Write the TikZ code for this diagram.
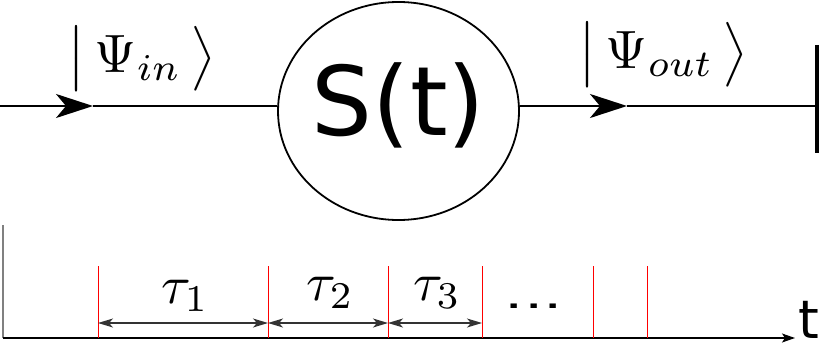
\documentclass[tikz,border=0pt]{standalone}
\usepackage{graphicx}
\usepackage{fontspec}
\newfontfamily\dejavu{DejaVu Sans}
\usetikzlibrary{arrows.meta,shapes.geometric}
\newcommand{\bigmath}[1]{\scalebox{5.4}{$#1$}}
\begin{document}
\begin{tikzpicture}[x=1pt,y=-1pt,
  wire/.style={line width=2.6pt},
  bigtip/.style={-{Stealth[length=37pt,width=24pt,inset=10pt]}},
  mathlab/.style={inner sep=0pt},
  redline/.style={red,line width=1pt},
  dimarrow/.style={black!80,line width=1.2pt,{Stealth[length=15pt,width=9pt,inset=4pt]}-{Stealth[length=15pt,width=9pt,inset=4pt]}},
  axisline/.style={line width=1.5pt,-{Stealth[length=13pt,width=9pt,inset=3pt]}}]
\useasboundingbox (0,0) rectangle (821,345);
% circle
\node[ellipse,draw,line width=1.8pt,minimum width=241pt,minimum height=218pt,inner sep=0pt] (S) at (398.5,111) {};
\node[inner sep=0pt,anchor=base,font=\dejavu\fontsize{96}{100}\selectfont] (Slab) at (398.5,135) {S(t)};
% input wire
\coordinate (inL) at (0,106);
\coordinate (inA) at (93,106);
\draw[wire,bigtip] (inL) -- (inA);
\draw[wire] (inA) -- (S.west |- inL);
% output wire
\coordinate (outA) at (627,106);
\coordinate (outR) at (817,106);
\coordinate (barT) at (817,45);
\coordinate (barB) at (817,153);
\draw[wire,bigtip] (S.east |- outA) -- (outA);
\draw[wire] (outA) -- (outR);
\draw[line width=3.5pt] (barT) -- (barB);
% state labels
\node[mathlab] (psiin) at (142,58.5) {\bigmath{\bigl|\,\Psi_{in}\,\bigr\rangle}};
\node[mathlab] (psiout) at (663.5,55) {\bigmath{\bigl|\,\Psi_{out}\,\bigr\rangle}};
% time axis
\coordinate (axTop) at (3,225);
\coordinate (ax0) at (3,338);
\coordinate (axEnd) at (795,338);
\draw[gray,line width=1.5pt] (axTop) -- (ax0);
\draw[axisline] (ax0) -- (axEnd);
\node[inner sep=0pt,anchor=base,font=\dejavu\fontsize{53}{60}\selectfont] (tlab) at (809,338) {t};
\foreach \x [count=\i] in {98,268,388,482,593,647} {
  \coordinate (r\i) at (\x,266);
  \coordinate (b\i) at (\x,338);
  \coordinate (m\i) at (\x,323);
  \draw[redline] (r\i) -- (b\i);
}
\draw[dimarrow] (m1) -- (m2);
\draw[dimarrow] (m2) -- (m3);
\draw[dimarrow] (m3) -- (m4);
\node[mathlab,anchor=base west] (tau1) at (161,303) {\bigmath{\tau_1}};
\node[mathlab,anchor=base west] (tau2) at (306,300) {\bigmath{\tau_2}};
\node[mathlab,anchor=base west] (tau3) at (413,300) {\bigmath{\tau_3}};
\node[inner sep=0pt,anchor=base,yscale=0.6,font=\dejavu\fontsize{61}{64}\selectfont] (dots) at (534,308) {...};
\end{tikzpicture}
\end{document}
